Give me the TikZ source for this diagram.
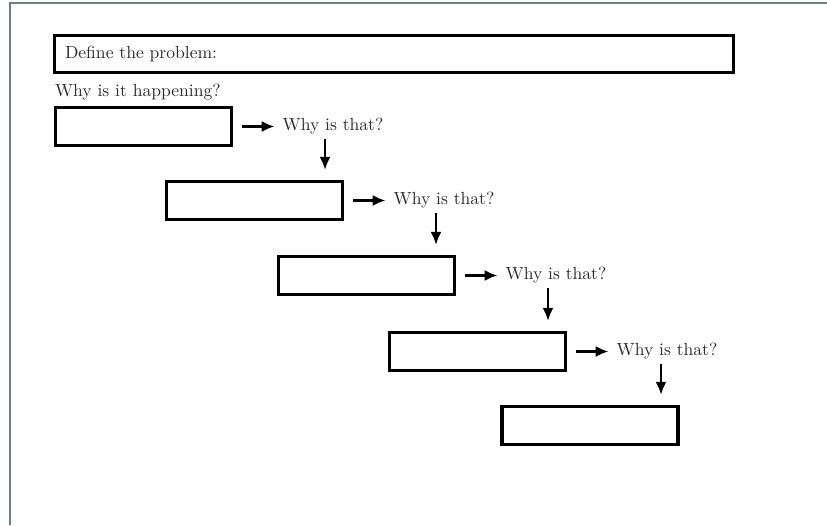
\documentclass[tikz,border=0pt]{standalone}
\usetikzlibrary{arrows.meta,positioning}
\definecolor{framegray}{HTML}{6F8276}
\definecolor{inkgray}{HTML}{2B2B2B}

\begin{document}
\begin{tikzpicture}[
  whybox/.style={rectangle, draw, line width=1.8pt, minimum width=3.52cm, minimum height=0.76cm, inner sep=0pt},
  whylabel/.style={inner sep=1pt, text=inkgray, font=\normalsize},
  arr/.style={-{Latex[length=2.6mm, width=2.2mm]}, line width=1.3pt}
]
  \useasboundingbox (0,0) rectangle (16.54,10.5);
  \draw[framegray, line width=1pt] (0.2,0) -- (0.2,10.44) -- (16.54,10.44);

  \node[whybox, minimum width=13.58cm, minimum height=0.74cm, text width=13.16cm, inner xsep=0.21cm, align=left, text=inkgray] (problem) at (7.88,9.42) {Define the problem:};
  \node[whylabel, anchor=west] (happen) at (1.06,8.66) {Why is it happening?};

  \node[whybox] (b1) at (2.87,7.97) {};
  \node[whybox] (b2) at (5.09,6.49) {};
  \node[whybox] (b3) at (7.33,4.99) {};
  \node[whybox] (b4) at (9.55,3.47) {};
  \node[whybox] (b5) at (11.80,1.99) {};

  \node[whylabel, right=0.95cm of b1] (w1) {Why is that?};
  \node[whylabel, right=0.95cm of b2] (w2) {Why is that?};
  \node[whylabel, right=0.95cm of b3] (w3) {Why is that?};
  \node[whylabel, right=0.95cm of b4] (w4) {Why is that?};

  \draw[arr, shorten <=0.18cm, shorten >=0.12cm] (b1) -- (w1);
  \draw[arr, shorten <=0.18cm, shorten >=0.12cm] (b2) -- (w2);
  \draw[arr, shorten <=0.18cm, shorten >=0.12cm] (b3) -- (w3);
  \draw[arr, shorten <=0.18cm, shorten >=0.12cm] (b4) -- (w4);

  \draw[arr, shorten <=0.04cm, shorten >=0.2cm] ([xshift=-0.16cm]w1.south) -- ([xshift=-0.16cm]w1.south |- b2.north);
  \draw[arr, shorten <=0.04cm, shorten >=0.2cm] ([xshift=-0.16cm]w2.south) -- ([xshift=-0.16cm]w2.south |- b3.north);
  \draw[arr, shorten <=0.04cm, shorten >=0.2cm] ([xshift=-0.16cm]w3.south) -- ([xshift=-0.16cm]w3.south |- b4.north);
  \draw[arr, shorten <=0.04cm, shorten >=0.2cm] ([xshift=-0.12cm]w4.south) -- ([xshift=-0.12cm]w4.south |- b5.north);
\end{tikzpicture}
\end{document}
